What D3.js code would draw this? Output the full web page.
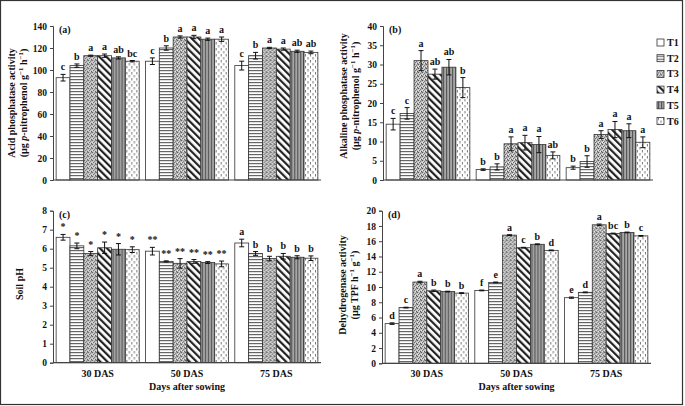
<!DOCTYPE html>
<html>
<head>
<meta charset="utf-8">
<script src="https://cdn.jsdelivr.net/npm/d3@7"></script>
<style>
  body { margin: 0; background: #fff; }
  svg { display: block; }
  text { font-family: "Liberation Serif", "Times New Roman", serif; font-weight: bold; fill: #111; }
</style>
</head>
<body>
<div id="graph"></div>
<script>
const days = ["30 DAS", "50 DAS", "75 DAS"];
const treatments = ["T1", "T2", "T3", "T4", "T5", "T6"];

// (a) acid phosphatase, rows = days, cols = T1..T6
const acidVals = [[93, 104, 113, 113, 111, 108], [108, 120, 130, 130, 128, 128], [104, 113, 120, 119, 117, 116]];
const acidErr = [[3, 1.5, 0.5, 1.5, 1, 0.6], [3, 2, 1, 1.5, 1, 2], [4, 3, 0.6, 1, 1, 1.2]];
const acidLetters = [["c", "b", "a", "a", "ab", "bc"], ["c", "b", "a", "a", "a", "a"], ["c", "b", "a", "a", "ab", "ab"]];

// (b) alkaline phosphatase
const alkVals = [[14.5, 17.3, 31, 27.5, 29.3, 24], [2.7, 3.4, 9.4, 9.7, 9.2, 6.4], [3.2, 4.8, 11.8, 13.1, 12.8, 9.8]];
const alkErr = [[1.5, 1.5, 2.6, 1.3, 2, 2.6], [0.2, 0.8, 1.8, 1.9, 2.1, 0.9], [0.4, 1.5, 1, 2.1, 1.8, 1.4]];
const alkLetters = [["c", "c", "a", "ab", "ab", "b"], ["b", "b", "a", "a", "a", "ab"], ["b", "b", "a", "a", "a", "a"]];

// (c) soil pH
const phVals = [[6.6, 6.15, 5.75, 6.05, 5.97, 5.95], [5.87, 5.33, 5.23, 5.33, 5.27, 5.2], [6.3, 5.75, 5.48, 5.6, 5.55, 5.5]];
const phErr = [[0.15, 0.15, 0.1, 0.3, 0.3, 0.15], [0.2, 0.03, 0.25, 0.1, 0.05, 0.15], [0.2, 0.1, 0.12, 0.15, 0.08, 0.12]];
const phLetters = [["*", "*", "*", "*", "*", "*"], ["**", "**", "**", "**", "**", "**"], ["a", "b", "b", "b", "b", "b"]];

// (d) dehydrogenase
const dhVals = [[5.2, 7.3, 10.65, 9.5, 9.4, 9.2], [9.55, 10.6, 16.8, 15.15, 15.6, 14.8], [8.6, 9.3, 18.15, 17.0, 17.15, 16.7]];
const dhErr = [[0.1, 0.05, 0.1, 0.1, 0.05, 0.05], [0.05, 0.05, 0.05, 0.05, 0.05, 0.05], [0.08, 0.05, 0.1, 0.06, 0.05, 0.05]];
const dhLetters = [["d", "c", "a", "b", "b", "b"], ["f", "e", "a", "c", "b", "d"], ["e", "d", "a", "bc", "b", "c"]];

const W = 685, H = 406;
const svg = d3.select("#graph").append("svg").attr("width", W).attr("height", H);

// patterns for the six treatments
const defs = svg.append("defs");
function makePatterns() {
  let p;
  // T2 horizontal lines
  p = defs.append("pattern").attr("id", "pT2").attr("patternUnits", "userSpaceOnUse").attr("width", 4).attr("height", 3);
  p.append("rect").attr("width", 4).attr("height", 3).attr("fill", "#fff");
  p.append("rect").attr("y", 1).attr("width", 4).attr("height", 1.2).attr("fill", "#666");
  // T3 speckled
  p = defs.append("pattern").attr("id", "pT3").attr("patternUnits", "userSpaceOnUse").attr("width", 4).attr("height", 4);
  p.append("rect").attr("width", 4).attr("height", 4).attr("fill", "#bdbdbd");
  [[0, 0, "#555"], [2, 1, "#777"], [1, 2, "#666"], [3, 3, "#555"], [2, 3, "#eee"], [0, 2, "#eee"], [3, 0, "#999"], [1, 1, "#ddd"]].forEach(d => {
    p.append("rect").attr("x", d[0]).attr("y", d[1]).attr("width", 1).attr("height", 1).attr("fill", d[2]);
  });
  // T4 wide diagonal
  p = defs.append("pattern").attr("id", "pT4").attr("patternUnits", "userSpaceOnUse").attr("width", 5).attr("height", 5)
    .attr("patternTransform", "rotate(-45)");
  p.append("rect").attr("width", 5).attr("height", 5).attr("fill", "#fff");
  p.append("rect").attr("width", 2.2).attr("height", 5).attr("fill", "#222");
  // T5 vertical stripes
  p = defs.append("pattern").attr("id", "pT5").attr("patternUnits", "userSpaceOnUse").attr("width", 3).attr("height", 3);
  p.append("rect").attr("width", 3).attr("height", 3).attr("fill", "#aaa");
  p.append("rect").attr("x", 1).attr("width", 1.2).attr("height", 3).attr("fill", "#555");
  // T6 dashed verticals
  p = defs.append("pattern").attr("id", "pT6").attr("patternUnits", "userSpaceOnUse").attr("width", 5).attr("height", 6);
  p.append("rect").attr("width", 5).attr("height", 6).attr("fill", "#fff");
  p.append("rect").attr("x", 1).attr("y", 0).attr("width", 1).attr("height", 2.5).attr("fill", "#777");
  p.append("rect").attr("x", 3.5).attr("y", 3).attr("width", 1).attr("height", 2.5).attr("fill", "#777");
}
makePatterns();
const fillOf = t => t === "T1" ? "#fff" : `url(#p${t})`;

// outer frame
svg.append("rect").attr("x", 0.5).attr("y", 0.5).attr("width", 682).attr("height", 404)
  .attr("fill", "none").attr("stroke", "#333").attr("stroke-width", 1.2);

function panel(cfg) {
  const g = svg.append("g");
  const y = d3.scaleLinear().domain([0, cfg.max]).range([cfg.y0, cfg.y1]);
  const x0 = d3.scaleBand().domain(days).range([cfg.x0, cfg.x1]).padding(0);
  const pad = x0.bandwidth() * 0.035;
  const x1 = d3.scaleBand().domain(treatments).range([pad, x0.bandwidth() - pad]).padding(0);

  const yAxis = d3.axisLeft(y).tickValues(d3.range(0, cfg.max + cfg.step / 2, cfg.step)).tickSize(3).tickPadding(3);
  const ya = g.append("g").attr("transform", `translate(${cfg.x0},0)`).call(yAxis);
  ya.select(".domain").attr("stroke", "#444");
  ya.selectAll("line").attr("stroke", "#444");
  ya.selectAll("text").attr("font-size", 9.5).attr("fill", "#111")
    .attr("font-family", "Liberation Serif, serif").attr("font-weight", "bold");

  const rows = [];
  days.forEach((d, i) => treatments.forEach((t, j) => rows.push({
    day: d, t, v: cfg.vals[i][j], e: cfg.err[i][j], lab: cfg.letters[i][j]
  })));

  const grp = g.append("g").selectAll("g").data(rows).join("g")
    .attr("transform", d => `translate(${x0(d.day) + x1(d.t)},0)`);
  grp.append("rect")
    .attr("x", 0).attr("y", d => y(d.v))
    .attr("width", x1.bandwidth()).attr("height", d => y(0) - y(d.v))
    .attr("fill", d => fillOf(d.t)).attr("stroke", "#333").attr("stroke-width", 0.8);

  const cx = x1.bandwidth() / 2;
  grp.append("line").attr("x1", cx).attr("x2", cx)
    .attr("y1", d => y(d.v - d.e)).attr("y2", d => y(d.v + d.e)).attr("stroke", "#111").attr("stroke-width", 1);
  grp.append("line").attr("x1", cx - 2.5).attr("x2", cx + 2.5)
    .attr("y1", d => y(d.v + d.e)).attr("y2", d => y(d.v + d.e)).attr("stroke", "#111").attr("stroke-width", 1);
  grp.append("line").attr("x1", cx - 2.5).attr("x2", cx + 2.5)
    .attr("y1", d => y(d.v - d.e)).attr("y2", d => y(d.v - d.e)).attr("stroke", "#111").attr("stroke-width", 1);
  grp.append("text").attr("x", cx).attr("y", d => y(d.v + d.e) - 4)
    .attr("text-anchor", "middle").attr("font-size", 10).text(d => d.lab);

  // x axis
  g.append("line").attr("x1", cfg.x0).attr("x2", cfg.x1).attr("y1", y(0)).attr("y2", y(0))
    .attr("stroke", "#444").attr("stroke-width", 1.2);

  if (cfg.xlabels) {
    g.append("g").selectAll("text").data(days).join("text")
      .attr("x", d => x0(d) + x0.bandwidth() / 2).attr("y", y(0) + 14)
      .attr("text-anchor", "middle").attr("font-size", 10).text(d => d);
    g.append("text").attr("x", (cfg.x0 + cfg.x1) / 2).attr("y", y(0) + 27)
      .attr("text-anchor", "middle").attr("font-size", 10).text("Days after sowing");
  }

  g.append("text").attr("x", cfg.x0 + 6).attr("y", cfg.y1 + 7).attr("font-size", 10).text(cfg.tag);

  // y title
  const ty = g.append("text").attr("transform", `translate(${cfg.tx},${cfg.ty}) rotate(-90)`)
    .attr("text-anchor", "middle").attr("font-size", 10);
  cfg.title.forEach((line, k) => {
    const tl = ty.append("tspan").attr("x", 0).attr("dy", k === 0 ? 0 : 12);
    line.forEach(part => {
      const s = tl.append("tspan").text(part.t);
      if (part.i) s.attr("font-style", "italic");
      if (part.sup) s.attr("font-size", 7).attr("baseline-shift", "super");
    });
  });
  return { x0, x1 };
}

const enzUnit = [{ t: "(µg " }, { t: "p", i: true }, { t: "-nitrophenol g" }, { t: "−1", sup: true }, { t: " h" }, { t: "−1", sup: true }, { t: ")" }];

panel({ x0: 53, x1: 321, y0: 180, y1: 26, max: 140, step: 20, vals: acidVals, err: acidErr, letters: acidLetters,
  tag: "(a)", tx: 15, ty: 103, title: [[{ t: "Acid phosphatase activity" }], enzUnit] });
panel({ x0: 383, x1: 653, y0: 180, y1: 26, max: 40, step: 5, vals: alkVals, err: alkErr, letters: alkLetters,
  tag: "(b)", tx: 347, ty: 96, title: [[{ t: "Alkaline phosphatase activity" }], enzUnit] });
panel({ x0: 53, x1: 321, y0: 362.7, y1: 210.7, max: 8, step: 1, vals: phVals, err: phErr, letters: phLetters,
  tag: "(c)", tx: 23, ty: 284, title: [[{ t: "Soil pH" }]], xlabels: true });
panel({ x0: 382, x1: 651, y0: 363.3, y1: 210.7, max: 20, step: 2, vals: dhVals, err: dhErr, letters: dhLetters,
  tag: "(d)", tx: 346, ty: 285, title: [[{ t: "Dehydrogenase activity" }],
    [{ t: "(µg TPF h" }, { t: "−1", sup: true }, { t: " g" }, { t: "−1", sup: true }, { t: ")" }]], xlabels: true });

// legend
const leg = svg.append("g").selectAll("g").data(treatments).join("g")
  .attr("transform", (d, i) => `translate(657,${39 + i * 15.7})`);
leg.append("rect").attr("width", 7).attr("height", 7).attr("fill", d => fillOf(d))
  .attr("stroke", "#333").attr("stroke-width", 0.8);
leg.append("text").attr("x", 10).attr("y", 7).attr("font-size", 10).text(d => d);
</script>
</body>
</html>
